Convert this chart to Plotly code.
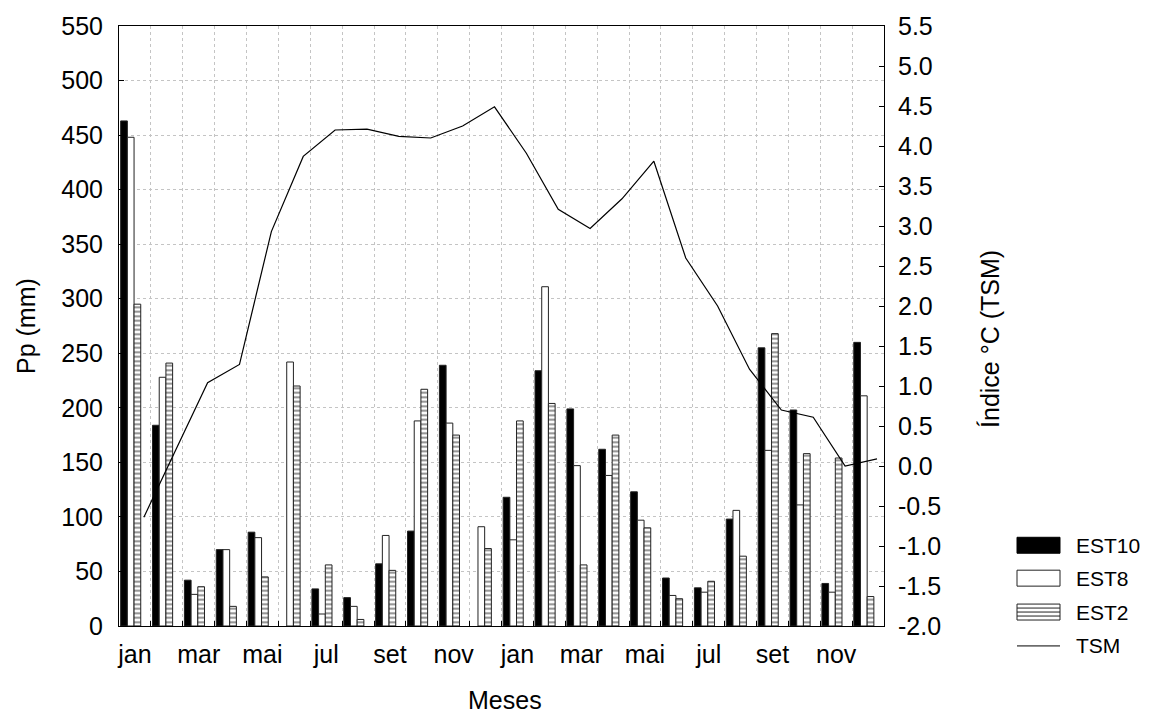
import plotly.graph_objects as go

# Monthly rainfall (mm) at three stations and the SST index, two consecutive years
months = ["jan", "fev", "mar", "abr", "mai", "jun", "jul", "ago", "set", "out", "nov", "dez"] * 2
est10 = [463, 184, 42, 70, 86, None, 34, 26, 57, 87, 239, None,
         118, 234, 199, 162, 123, 44, 35, 98, 255, 198, 39, 260]
est8 = [448, 228, 29, 70, 81, 242, 11, 18, 83, 188, 186, 91,
        79, 311, 147, 138, 97, 28, 31, 106, 161, 111, 31, 211]
est2 = [295, 241, 36, 18, 45, 220, 56, 6, 51, 217, 175, 71,
        188, 204, 56, 175, 90, 25, 41, 64, 268, 158, 154, 27]
tsm = [-0.64, 0.19, 1.04, 1.27, 2.93, 3.87, 4.20, 4.21, 4.12, 4.10, 4.25, 4.49,
       3.91, 3.21, 2.97, 3.34, 3.81, 2.60, 2.00, 1.21, 0.70, 0.61, 0.00, 0.09]

# right-axis ticks, written with a plain hyphen for negatives
tsm_ticks = [-2.0 + 0.5 * k for k in range(16)]
tsm_ticktext = [f"{v:.1f}" for v in tsm_ticks]

FONT = "Liberation Sans, Arial, sans-serif"
W, H = 1154, 713
L, R, T, B = 119, 884, 24, 626  # plot area in pixels

x = list(range(len(months)))
bar_w = 0.21
line_outline = dict(color="#222222", width=1)

fig = go.Figure()
fig.add_trace(go.Bar(x=x, y=est10, name="EST10", width=bar_w, offset=-0.448,
                     marker=dict(color="black", line=line_outline)))
fig.add_trace(go.Bar(x=x, y=est8, name="EST8", width=bar_w, offset=-0.238,
                     marker=dict(color="white", line=line_outline)))
fig.add_trace(go.Bar(x=x, y=est2, name="EST2", width=bar_w, offset=-0.028,
                     marker=dict(color="white", line=line_outline,
                                 pattern=dict(shape="-", fgcolor="#111111", bgcolor="white",
                                              size=4.5, solidity=0.42))))
fig.add_trace(go.Scatter(x=[v + 0.28 for v in x], y=tsm, name="TSM", mode="lines",
                         line=dict(color="black", width=1.2), yaxis="y2"))

grid = dict(showgrid=True, gridcolor="#c4c4c4", griddash="dot", gridwidth=1)

fig.update_layout(
    width=W, height=H,
    margin=dict(l=L, r=W - R, t=T, b=H - B),
    paper_bgcolor="white", plot_bgcolor="white",
    font=dict(family=FONT, size=25, color="black"),
    showlegend=False,
    barmode="overlay",
    xaxis=dict(
        range=[-0.5, 23.5],
        tickvals=x[::2], ticktext=months[::2],
        ticks="", showgrid=False, zeroline=False,
        showline=True, linecolor="black", linewidth=1, mirror=True,
        ticklabelstandoff=6,
        minor=dict(tickvals=[v + 0.5 for v in x[:-1]], ticks="inside", ticklen=5,
                   tickcolor="black", **grid),
    ),
    yaxis=dict(
        range=[0, 550], dtick=50, ticks="inside", ticklen=5, tickcolor="black",
        showline=True, linecolor="black", linewidth=1, mirror=True,
        zeroline=False, ticklabelstandoff=10, **grid,
    ),
    yaxis2=dict(
        range=[-2, 5.5], tickvals=tsm_ticks, ticktext=tsm_ticktext,
        overlaying="y", side="right",
        ticks="inside", ticklen=5, tickcolor="black",
        showline=True, linecolor="black", linewidth=1,
        showgrid=False, zeroline=False, ticklabelstandoff=8,
    ),
)

# axis titles
def px_x(p):
    return (p - L) / (R - L)

def px_y(p):
    return (B - p) / (B - T)

fig.add_annotation(text="Pp (mm)", x=px_x(26), y=px_y(325), xref="paper", yref="paper",
                   textangle=-90, showarrow=False, font=dict(size=25),
                   xanchor="center", yanchor="middle")
fig.add_annotation(text="Índice °C (TSM)", x=px_x(990), y=px_y(338), xref="paper", yref="paper",
                   textangle=-90, showarrow=False, font=dict(size=25),
                   xanchor="center", yanchor="middle")
fig.add_annotation(text="Meses", x=px_x(505), y=px_y(700), xref="paper", yref="paper",
                   showarrow=False, font=dict(size=25), xanchor="center", yanchor="middle")

# legend, drawn as shapes and labels
sx0, sx1 = 1017, 1060
entries = [("EST10", 545), ("EST8", 578), ("EST2", 612), ("TSM", 646)]
for name, cy in entries:
    y0, y1 = cy - 8, cy + 8
    if name == "EST10":
        fig.add_shape(type="rect", xref="paper", yref="paper",
                      x0=px_x(sx0), x1=px_x(sx1), y0=px_y(y1), y1=px_y(y0),
                      fillcolor="black", line=dict(color="black", width=1))
    elif name == "EST8":
        fig.add_shape(type="rect", xref="paper", yref="paper",
                      x0=px_x(sx0), x1=px_x(sx1), y0=px_y(y1), y1=px_y(y0),
                      fillcolor="white", line=dict(color="#222222", width=1))
    elif name == "EST2":
        fig.add_shape(type="rect", xref="paper", yref="paper",
                      x0=px_x(sx0), x1=px_x(sx1), y0=px_y(y1), y1=px_y(y0),
                      fillcolor="white", line=dict(color="#222222", width=1))
        for k in (1, 2, 3):
            yy = y0 + k * (y1 - y0) / 4
            fig.add_shape(type="line", xref="paper", yref="paper",
                          x0=px_x(sx0), x1=px_x(sx1), y0=px_y(yy), y1=px_y(yy),
                          line=dict(color="#222222", width=1))
    else:
        fig.add_shape(type="line", xref="paper", yref="paper",
                      x0=px_x(sx0), x1=px_x(sx1), y0=px_y(cy), y1=px_y(cy),
                      line=dict(color="black", width=1))
    fig.add_annotation(text=name, x=px_x(1074), y=px_y(cy), xref="paper", yref="paper",
                       showarrow=False, font=dict(size=21), xanchor="left", yanchor="middle")

fig.write_html("out.html")
